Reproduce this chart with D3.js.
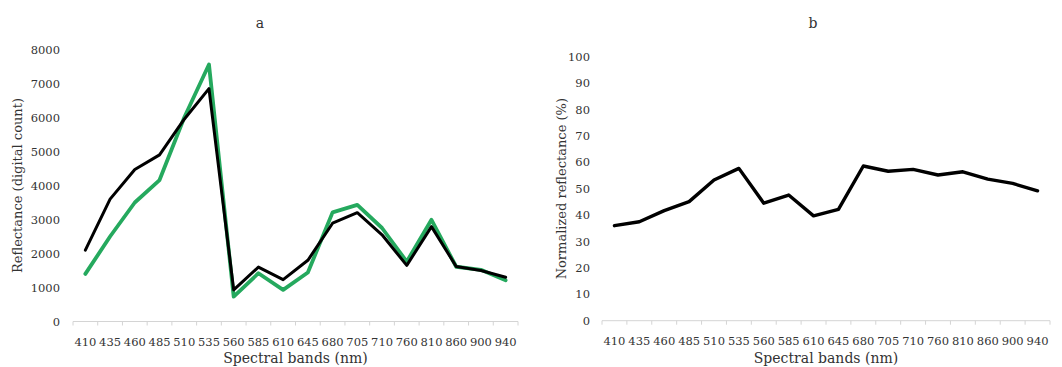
<!DOCTYPE html>
<html>
<head>
<meta charset="utf-8">
<script src="https://cdn.jsdelivr.net/npm/d3@7"></script>
<style>
  html, body { margin: 0; padding: 0; background: #fff; }
  svg { display: block; font-family: "DejaVu Serif", "Liberation Serif", serif; }
</style>
</head>
<body>
<svg id="chart" width="1062" height="367"></svg>
<script>
// Spectral bands shared by both panels (nm)
const bands = ["410","435","460","485","510","535","560","585","610","645","680","705","710","760","810","860","900","940"];

// Panel a: raw reflectance (digital count)
const reflectanceBlack = [2100,3600,4470,4900,5950,6850,930,1600,1230,1800,2890,3200,2550,1650,2790,1620,1500,1300];
const reflectanceGreen = [1400,2500,3500,4160,6000,7560,730,1420,930,1440,3210,3430,2750,1760,2990,1610,1520,1210];
const ticksA = [0,1000,2000,3000,4000,5000,6000,7000,8000];

// Panel b: normalized reflectance (%)
const normalized = [36.0,37.5,41.7,45.1,53.3,57.7,44.5,47.6,39.7,42.2,58.6,56.6,57.3,55.2,56.4,53.6,52.0,49.2];
const ticksB = [0,10,20,30,40,50,60,70,80,90,100];

const svg = d3.select("#chart");
const textColor = "#333333";
const axisColor = "#d4d4d4";

function panel(opts) {
  const g = svg.append("g");
  const x = d3.scaleBand().domain(bands).range(opts.xRange).padding(0);
  const y = d3.scaleLinear().domain(opts.yDomain).range(opts.yRange);
  const y0 = opts.yRange[0];

  // baseline axis with tick marks at band boundaries
  g.append("line")
    .attr("x1", opts.xRange[0]).attr("x2", opts.xRange[1])
    .attr("y1", y0).attr("y2", y0)
    .attr("stroke", axisColor).attr("stroke-width", 1);
  const bounds = bands.map(b => x(b)).concat([opts.xRange[1]]);
  g.selectAll(".bt").data(bounds).enter().append("line")
    .attr("x1", d => d).attr("x2", d => d)
    .attr("y1", y0).attr("y2", y0 + 4)
    .attr("stroke", axisColor).attr("stroke-width", 1);

  // category labels
  const xAxis = d3.axisBottom(x).tickSize(0).tickPadding(0);
  const gx = g.append("g").attr("transform", `translate(0,${y0})`).call(xAxis);
  gx.select(".domain").remove();
  gx.selectAll("text")
    .attr("dy", null).attr("y", 24)
    .attr("fill", textColor)
    .style("font-size", "11.5px")
    .style("font-family", "DejaVu Serif");

  // value labels
  const yAxis = d3.axisLeft(y).tickValues(opts.ticks).tickFormat(d3.format("d"))
    .tickSize(0).tickPadding(0);
  const gy = g.append("g").attr("transform", `translate(${opts.yLabelX},0)`).call(yAxis);
  gy.select(".domain").remove();
  gy.selectAll("text")
    .attr("fill", textColor)
    .style("font-size", "11.5px")
    .style("font-family", "DejaVu Serif");

  // panel letter
  g.append("text").attr("x", opts.titleX).attr("y", 28)
    .attr("text-anchor", "middle").attr("fill", textColor)
    .style("font-size", "14px").text(opts.title);

  // axis titles
  g.append("text")
    .attr("x", (opts.xRange[0] + opts.xRange[1]) / 2).attr("y", 363)
    .attr("text-anchor", "middle").attr("fill", textColor)
    .style("font-size", "14px").text("Spectral bands (nm)");
  g.append("text")
    .attr("transform", `translate(${opts.yTitleX},${(opts.yRange[0] + opts.yRange[1]) / 2}) rotate(-90)`)
    .attr("text-anchor", "middle").attr("fill", textColor)
    .style("font-size", "13px").text(opts.yTitle);

  const line = d3.line()
    .x((d, i) => x(bands[i]) + x.bandwidth() / 2)
    .y(d => y(d));

  opts.series.forEach(s => {
    g.append("path").datum(s.values)
      .attr("d", line)
      .attr("fill", "none")
      .attr("stroke", s.color)
      .attr("stroke-width", s.width)
      .attr("stroke-linejoin", "round")
      .attr("stroke-linecap", "round");
  });
}

panel({
  xRange: [73, 518], yRange: [321.5, 49.5], yDomain: [0, 8000], ticks: ticksA,
  yLabelX: 60, titleX: 260, title: "a", yTitleX: 22,
  yTitle: "Reflectance (digital count)",
  series: [
    { values: reflectanceGreen, color: "#25a95e", width: 3.8 },
    { values: reflectanceBlack, color: "#000000", width: 3 }
  ]
});

panel({
  xRange: [602, 1050], yRange: [320.7, 56.7], yDomain: [0, 100], ticks: ticksB,
  yLabelX: 590, titleX: 813, title: "b", yTitleX: 566,
  yTitle: "Normalized reflectance (%)",
  series: [
    { values: normalized, color: "#000000", width: 3.4 }
  ]
});
</script>
</body>
</html>
